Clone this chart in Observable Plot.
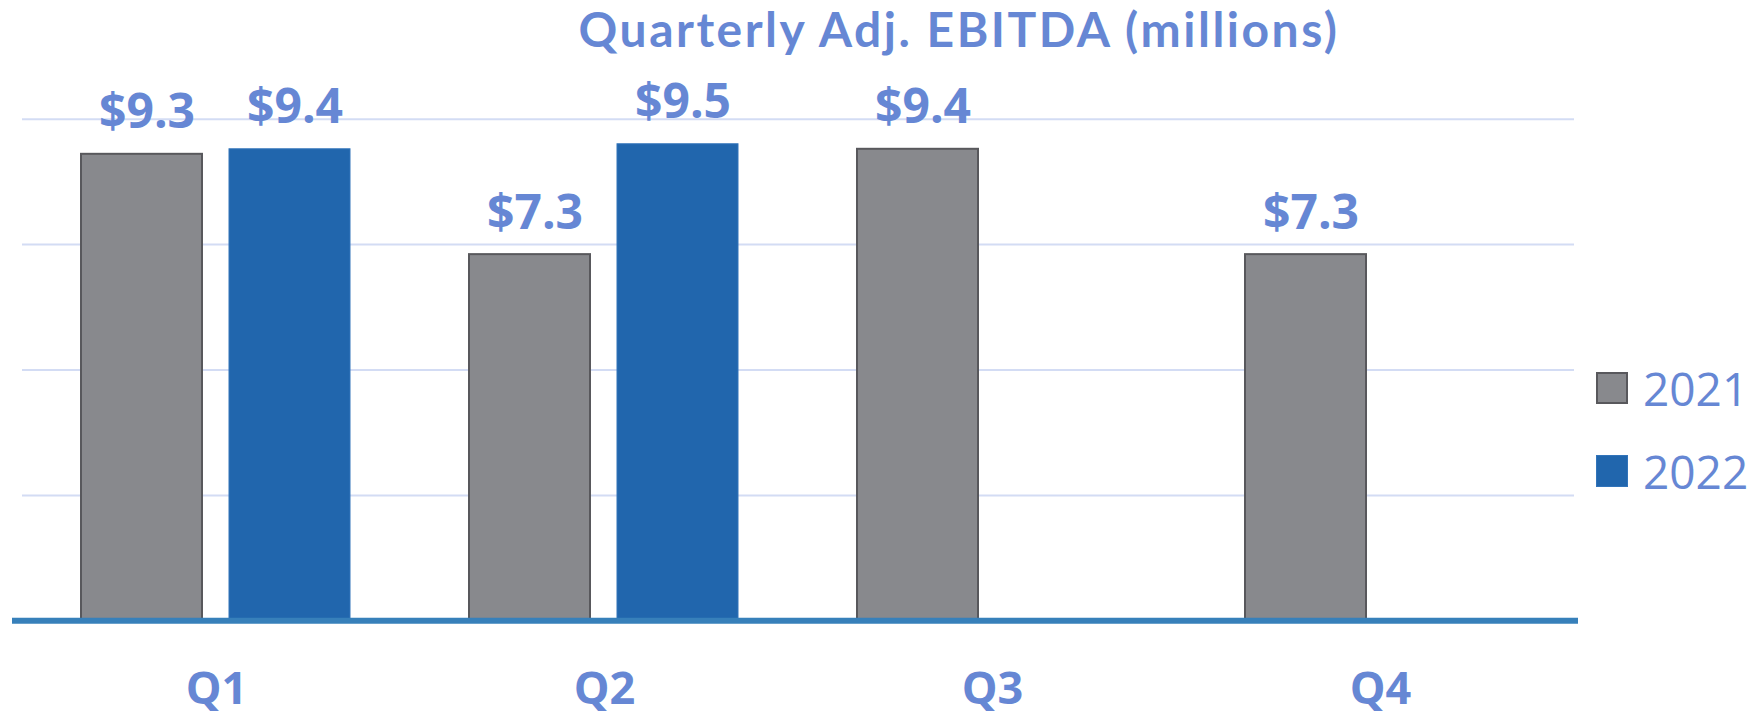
<!DOCTYPE html>
<html>
<head>
<meta charset="utf-8">
<script src="https://cdn.jsdelivr.net/npm/d3@7"></script>
<script src="https://cdn.jsdelivr.net/npm/@observablehq/plot@0.6"></script>
<style>
  html, body { margin: 0; padding: 0; background: #fff; }
  body { width: 1753px; height: 719px; overflow: hidden; position: relative; font-family: "Open Sans", "Noto Sans", sans-serif; }
  #title { position: absolute; left: 0; top: 0; width: 1753px; height: 60px; line-height: normal; box-sizing: border-box; padding-left: 165px; text-align: center; font-family: Lato, "Open Sans", sans-serif; font-size: 48px; font-weight: 700; letter-spacing: 2.5px; color: #6687d4; white-space: nowrap; }
  #chart { position: absolute; left: 0; top: 60px; }
  #legend { position: absolute; left: 1596px; top: 365px; }
  .row { display: flex; align-items: center; height: 46px; margin-bottom: 36.5px; }
  .sw { width: 32px; height: 32px; box-sizing: border-box; margin-right: 15px; }
  .lab { font-size: 46px; line-height: 46px; font-weight: 400; color: #6687d4; }
</style>
</head>
<body>
<div id="title"></div>
<div id="chart"></div>
<div id="legend"></div>
<script>
// ---- data ----
const titleText = "Quarterly Adj. EBITDA (millions)";
const quarters = ["Q1", "Q2", "Q3", "Q4"];
const years = ["2021", "2022"];
const ebitda2021 = [9.3, 7.3, 9.4, 7.3];
const ebitda2022 = [9.4, 9.5, null, null];
const gridValues = [2.5, 5, 7.5, 10];
const yearColors = ["#88898d", "#2166ad"];
const yearStrokes = ["#58585c", "#3274ba"];

// ---- build tables ----
const rows = [];
quarters.forEach((q, i) => {
  if (ebitda2021[i] != null) rows.push({quarter: q, year: "2021", value: ebitda2021[i]});
  if (ebitda2022[i] != null) rows.push({quarter: q, year: "2022", value: ebitda2022[i]});
});
const baseFirst = [{quarter: quarters[0]}];
const baseMiddle = quarters.slice(1, -1).map(q => ({quarter: q}));
const baseLast = [{quarter: quarters[quarters.length - 1]}];

document.getElementById("title").textContent = titleText;

const textColor = "#6687d4";
const baseColor = "#3780ba";

const chart = Plot.plot({
  width: 1590,
  height: 659,
  marginLeft: 22,
  marginRight: 16,
  marginTop: 58.7,
  marginBottom: 98.7,
  style: {fontFamily: "'Open Sans', 'Noto Sans', sans-serif", background: "transparent"},
  fx: {domain: quarters, padding: 0, label: null},
  x: {domain: years, paddingInner: 0.182, paddingOuter: 0.4, axis: null},
  y: {domain: [0, 10], axis: null},
  color: {domain: years, range: yearColors},
  marks: [
    Plot.ruleY(gridValues, {stroke: "#d3dcf4", strokeWidth: 2}),
    Plot.barY(rows, {
      fx: "quarter", x: "year", y: "value",
      fill: "year",
      stroke: d => yearStrokes[years.indexOf(d.year)],
      strokeWidth: d => d.year === "2021" ? 2 : 1
    }),
    Plot.ruleY(baseFirst, {fx: "quarter", y: () => 0, stroke: baseColor, strokeWidth: 6, insetLeft: -10}),
    Plot.ruleY(baseMiddle, {fx: "quarter", y: () => 0, stroke: baseColor, strokeWidth: 6}),
    Plot.ruleY(baseLast, {fx: "quarter", y: () => 0, stroke: baseColor, strokeWidth: 6, insetRight: -4}),
    Plot.text(rows, {
      fx: "quarter", x: "year", y: "value",
      text: d => "$" + d.value.toFixed(1),
      dy: -26, dx: 5, lineAnchor: "bottom",
      fontSize: 48, fontWeight: 700, fill: textColor
    }),
    Plot.axisFx({
      anchor: "bottom", tickSize: 0, tickPadding: 51, label: null,
      fontSize: 45, fontWeight: 700, fill: textColor
    })
  ]
});
document.getElementById("chart").appendChild(chart);

// ---- legend ----
const legend = document.getElementById("legend");
years.forEach((y, i) => {
  const row = document.createElement("div");
  row.className = "row";
  const sw = document.createElement("div");
  sw.className = "sw";
  sw.style.background = yearColors[i];
  sw.style.border = i === 0 ? "2px solid " + yearStrokes[i] : "1px solid " + yearStrokes[i];
  const lab = document.createElement("div");
  lab.className = "lab";
  lab.textContent = y;
  row.appendChild(sw);
  row.appendChild(lab);
  legend.appendChild(row);
});
</script>
</body>
</html>
